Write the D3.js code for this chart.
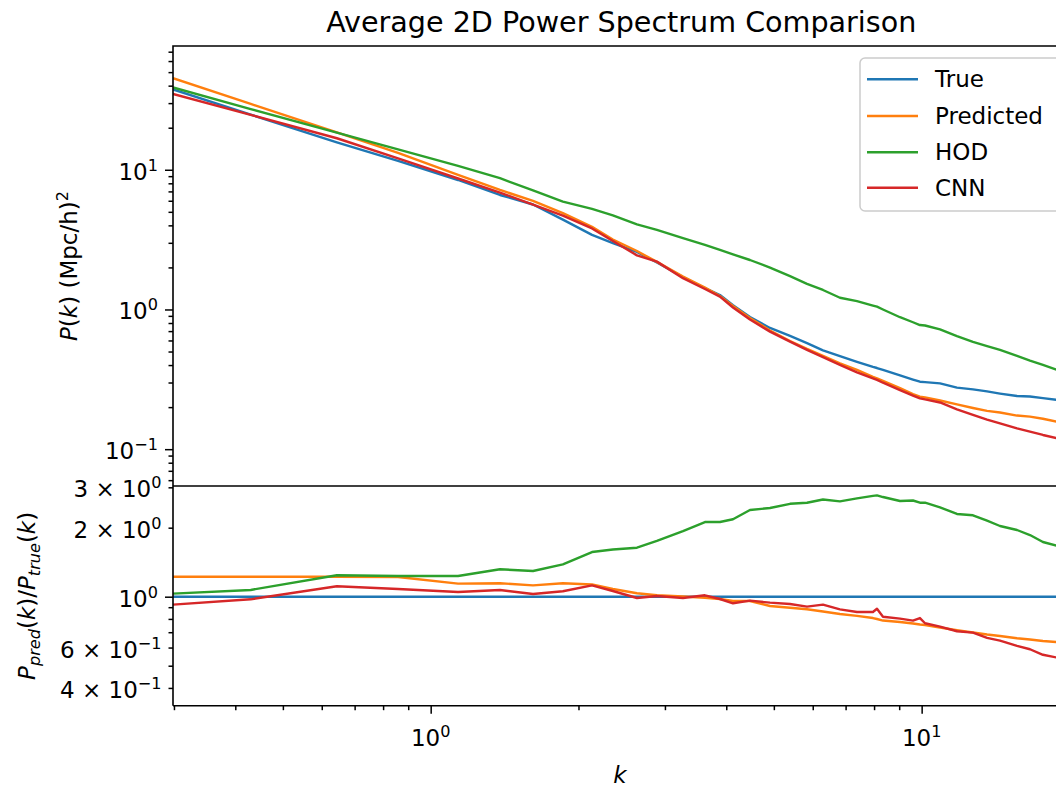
<!DOCTYPE html>
<html><head><meta charset="utf-8">
<script src="https://cdn.jsdelivr.net/npm/d3@7"></script>
<style>body{margin:0;background:#fff}svg{display:block}text{font-family:"DejaVu Sans",sans-serif;fill:#000}</style>
</head><body><svg id="c" width="1056" height="788"></svg>
<script>
// ---- data ----
const k = [0.2987,0.43,0.644,0.858,1.137,1.384,1.616,1.859,2.131,2.35,
  2.631,2.889,3.265,3.619,3.883,4.128,4.47,4.91,5.394,5.841,
  6.295,6.817,7.384,7.958,8.11,8.341,9.035,9.601,9.92,10.16,
  10.9,11.8,12.72,13.59,14.44,15.64,16.62,17.66,18.9];
const pTrue = [37.6,24.8,15.71,11.56,8.45,6.60,5.64,4.40,3.42,2.99,
  2.58,2.17,1.708,1.425,1.270,1.073,0.882,0.737,0.646,0.575,
  0.510,0.464,0.422,0.388,0.381,0.369,0.338,0.315,0.304,0.302,
  0.296,0.276,0.268,0.259,0.250,0.240,0.238,0.232,0.225];
const pPred = [45.2,29.6,18.49,13.19,9.21,7.17,5.98,4.90,3.90,3.17,
  2.62,2.19,1.723,1.437,1.249,1.060,0.869,0.707,0.595,0.522,
  0.465,0.411,0.369,0.329,0.321,0.308,0.274,0.248,0.238,0.235,
  0.223,0.209,0.197,0.188,0.183,0.174,0.171,0.165,0.157];
const pHOD = [38.8,27.2,18.46,14.0,10.65,8.70,7.11,5.92,5.25,4.72,
  4.07,3.71,3.24,2.90,2.67,2.48,2.26,1.995,1.731,1.525,
  1.379,1.213,1.148,1.066,1.047,1.0,0.880,0.810,0.774,0.768,
  0.720,0.645,0.586,0.547,0.513,0.466,0.431,0.401,0.369];
const pCNN = [34.9,24.7,16.81,12.07,8.66,6.86,5.62,4.69,3.80,3.09,
  2.44,2.20,1.675,1.402,1.235,1.033,0.847,0.694,0.588,0.514,
  0.456,0.401,0.355,0.321,0.313,0.299,0.265,0.242,0.231,0.227,
  0.216,0.193,0.176,0.163,0.153,0.141,0.1335,0.1264,0.1197];
const rTrue = [1,1,1,1,1,1,1,1,1,1, 1,1,1,1,1,1,1,1,1,1, 1,1,1,1,1,1,1,1,1,1, 1,1,1,1,1,1,1,1,1];
const rPred = [1.222,1.222,1.222,1.218,1.14,1.144,1.121,1.144,1.130,1.080,
  1.035,1.014,1.002,0.990,0.977,0.958,0.958,0.911,0.895,0.881,
  0.862,0.841,0.825,0.807,0.799,0.787,0.776,0.764,0.756,0.753,
  0.734,0.714,0.698,0.684,0.674,0.659,0.651,0.641,0.634];
const rHOD = [1.031,1.070,1.240,1.231,1.231,1.317,1.294,1.384,1.566,1.606,
  1.636,1.750,1.934,2.117,2.117,2.176,2.388,2.437,2.542,2.568,
  2.654,2.606,2.686,2.754,2.768,2.721,2.615,2.628,2.570,2.570,
  2.454,2.295,2.265,2.145,2.034,1.954,1.858,1.732,1.664];
const rCNN = [0.923,0.974,1.110,1.08,1.048,1.070,1.028,1.056,1.121,1.059,
  0.987,1.007,0.987,1.014,0.977,0.936,0.961,0.942,0.929,0.905,
  0.923,0.881,0.858,0.858,0.886,0.818,0.802,0.786,0.807,0.766,
  0.740,0.707,0.697,0.661,0.643,0.610,0.590,0.558,0.542];

const seriesNames = ["True","Predicted","HOD","CNN"];
const seriesColors = ["#1f77b4","#ff7f0e","#2ca02c","#d62728"];

const xMajorTicks = [1,10];
const xMajorLabels = [["10","0"],["10","1"]];
const xMinorTicks = [0.3,0.4,0.5,0.6,0.7,0.8,0.9,2,3,4,5,6,7,8,9];
const yTopMajorTicks = [0.1,1,10];
const yTopMajorLabels = [["10","\u22121"],["10","0"],["10","1"]];
const yTopMinorTicks = [0.06,0.07,0.08,0.09,0.2,0.3,0.4,0.5,0.6,0.7,0.8,0.9,2,3,4,5,6,7,8,9,20,30,40,50,60,70];
const yBotLabeledTicks = [3,2,0.6,0.4];
const yBotLabeledText = [["3 \u00d7 10","0"],["2 \u00d7 10","0"],["6 \u00d7 10","\u22121"],["4 \u00d7 10","\u22121"]];
const yBotMajorTicks = [1];
const yBotMajorLabels = [["10","0"]];
const yBotMinorTicks = [0.5,0.7,0.8,0.9];

// ---- layout ----
const L = 173, R = 1057.5, T1 = 46, B1 = 486, B2 = 705.7;
const FS = 23, MAJ = 8, MIN = 4.5, LW = 2.4;

const svg = d3.select("#c");
const x = d3.scaleLog().domain([0.29865, 18.91]).range([L, R]);
const yT = d3.scaleLog().domain([0.0545, 76.9]).range([B1, T1]);
const yB = d3.scaleLog().domain([0.3346, 3.04]).range([B2, B1]);

const defs = svg.append("defs");
defs.append("clipPath").attr("id","clipT").append("rect").attr("x",L).attr("y",T1).attr("width",R-L).attr("height",B1-T1);
defs.append("clipPath").attr("id","clipB").append("rect").attr("x",L).attr("y",B1).attr("width",R-L).attr("height",B2-B1);

const topSeries = [pTrue,pPred,pHOD,pCNN];
const botSeries = [rTrue,rPred,rHOD,rCNN];

const lineT = d3.line().x((d,i)=>x(k[i])).y(d=>yT(d));
const lineB = d3.line().x((d,i)=>x(k[i])).y(d=>yB(d));

const gT = svg.append("g").attr("clip-path","url(#clipT)");
topSeries.forEach((s,i)=>gT.append("path").attr("d",lineT(s)).attr("fill","none")
  .attr("stroke",seriesColors[i]).attr("stroke-width",LW).attr("stroke-linejoin","round"));
const gB = svg.append("g").attr("clip-path","url(#clipB)");
botSeries.forEach((s,i)=>gB.append("path").attr("d",lineB(s)).attr("fill","none")
  .attr("stroke",seriesColors[i]).attr("stroke-width",LW).attr("stroke-linejoin","round"));

// ---- axes (ticks) ----
function tickAxis(axisFn, scale, vals, size, transform){
  const g = svg.append("g").attr("transform",transform)
    .call(axisFn(scale).tickValues(vals).tickSize(size).tickFormat(()=>""));
  g.select(".domain").remove();
  g.selectAll(".tick line").attr("stroke","#000").attr("stroke-width",1.5);
  g.selectAll(".tick text").remove();
  return g;
}
tickAxis(d3.axisLeft, yT, yTopMajorTicks, MAJ, `translate(${L},0)`);
tickAxis(d3.axisLeft, yT, yTopMinorTicks, MIN, `translate(${L},0)`);
tickAxis(d3.axisLeft, yB, yBotMajorTicks, MAJ, `translate(${L},0)`);
tickAxis(d3.axisLeft, yB, yBotMinorTicks.concat(yBotLabeledTicks), MIN, `translate(${L},0)`);
tickAxis(d3.axisBottom, x, xMajorTicks, MAJ, `translate(0,${B2})`);
tickAxis(d3.axisBottom, x, xMinorTicks, MIN, `translate(0,${B2})`);

function powLabel(tx, ty, anchor, parts){
  const t = svg.append("text").attr("x",tx).attr("y",ty).attr("text-anchor",anchor).attr("font-size",FS)
    .style("white-space","pre");
  t.append("tspan").text(parts[0]);
  t.append("tspan").attr("dy",-9).attr("font-size",FS*0.7).text(parts[1]);
  return t;
}
yTopMajorTicks.forEach((v,i)=>powLabel(L-MAJ-7, yT(v)+10, "end", yTopMajorLabels[i]));
yBotMajorTicks.forEach((v,i)=>powLabel(L-MAJ-7, yB(v)+10, "end", yBotMajorLabels[i]));
yBotLabeledTicks.forEach((v,i)=>powLabel(L-MIN-7, yB(v)+10, "end", yBotLabeledText[i]));
xMajorTicks.forEach((v,i)=>powLabel(x(v), 746, "middle", xMajorLabels[i]));

// ---- spines ----
const sp = svg.append("g").attr("stroke","#000").attr("stroke-width",1.6).attr("fill","none");
sp.append("path").attr("d",`M${L},${B2}V${T1}H${R}V${B2}H${L}`);
sp.append("line").attr("x1",L).attr("x2",R).attr("y1",B1).attr("y2",B1);

// ---- titles / labels ----
svg.append("text").attr("x",(L+R)/2 + 6).attr("y",32).attr("text-anchor","middle").attr("font-size",28.6)
  .text("Average 2D Power Spectrum Comparison");
svg.append("text").attr("x",620).attr("y",783).attr("text-anchor","middle").attr("font-size",FS)
  .attr("font-style","italic").text("k");

const yl1 = svg.append("text").attr("text-anchor","middle").attr("font-size",FS)
  .attr("transform",`translate(77,${(T1+B1)/2}) rotate(-90)`);
yl1.append("tspan").attr("font-style","italic").text("P");
yl1.append("tspan").text("(");
yl1.append("tspan").attr("font-style","italic").text("k");
yl1.append("tspan").text(") (Mpc/h)");
yl1.append("tspan").attr("dy",-9).attr("font-size",FS*0.7).text("2");

const yl2 = svg.append("text").attr("text-anchor","middle").attr("font-size",FS)
  .attr("transform",`translate(35,${(B1+B2)/2}) rotate(-90)`);
function ratioPart(sub){
  yl2.append("tspan").attr("font-style","italic").text("P");
  yl2.append("tspan").attr("dy",5).attr("font-size",FS*0.7).attr("font-style","italic").text(sub);
  yl2.append("tspan").attr("dy",-5).text("(");
  yl2.append("tspan").attr("font-style","italic").text("k");
  yl2.append("tspan").text(")");
}
ratioPart("pred");
yl2.append("tspan").text("/");
ratioPart("true");

// ---- legend ----
const lg = svg.append("g");
lg.append("rect").attr("x",860).attr("y",58).attr("width",215).attr("height",153).attr("rx",5)
  .attr("fill","#fff").attr("fill-opacity",0.8).attr("stroke","#cccccc").attr("stroke-width",1.5);
const legY = [79.3,116,152.3,187.7];
seriesNames.forEach((n,i)=>{
  lg.append("line").attr("x1",867).attr("x2",918).attr("y1",legY[i]).attr("y2",legY[i])
    .attr("stroke",seriesColors[i]).attr("stroke-width",LW);
  lg.append("text").attr("x",935).attr("y",legY[i]+8).attr("font-size",FS).text(n);
});
</script></body></html>
